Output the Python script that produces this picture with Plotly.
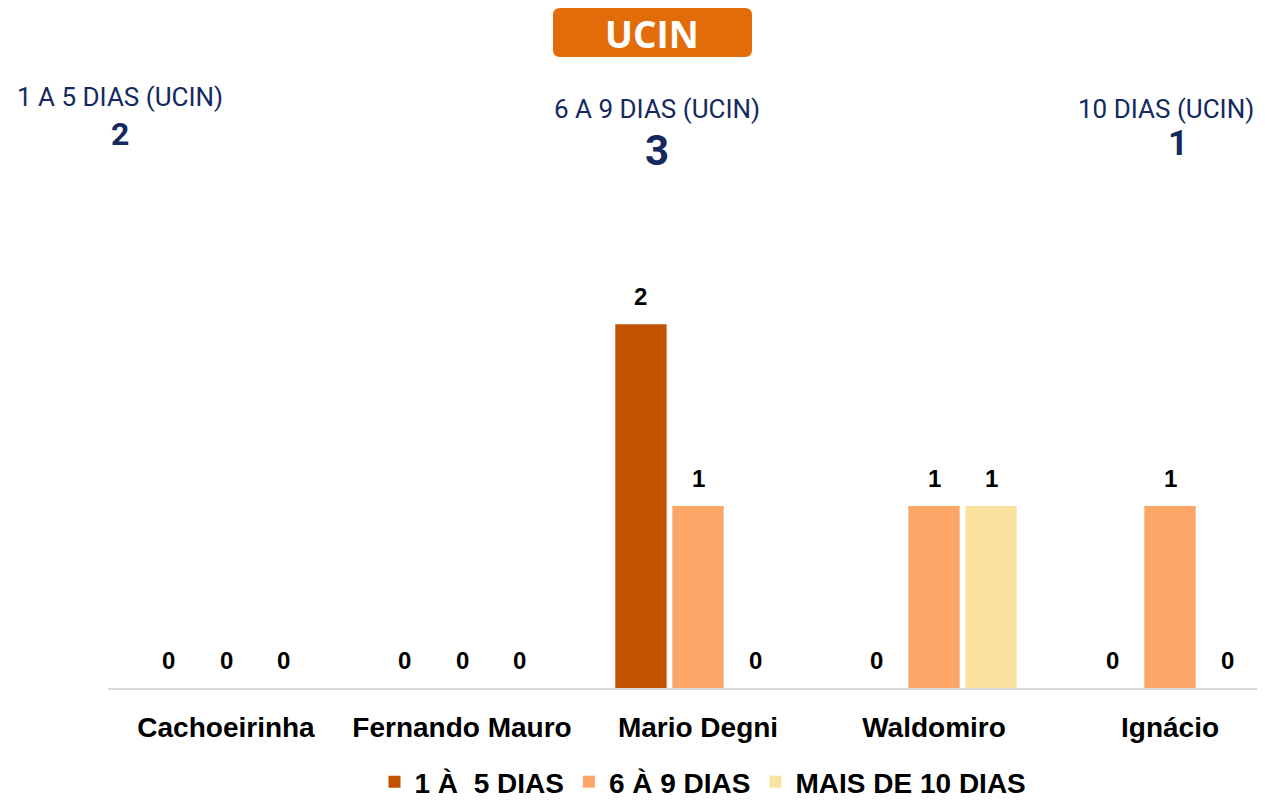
import plotly.graph_objects as go

categories = ["Cachoeirinha", "Fernando Mauro", "Mario Degni", "Waldomiro", "Ignácio"]
series_names = ["1 À  5 DIAS", "6 À 9 DIAS", "MAIS DE 10 DIAS"]
v_1a5 = [0, 0, 2, 0, 0]
v_6a9 = [0, 0, 1, 1, 1]
v_10 = [0, 0, 0, 1, 0]
series_values = [v_1a5, v_6a9, v_10]
colors = ["#C05200", "#FBA566", "#FAE29F"]

summary_labels = ["1 A 5 DIAS (UCIN)", "6 A 9 DIAS (UCIN)", "10 DIAS (UCIN)"]
summary_values = [2, 3, 1]

PAGE_W, PAGE_H = 1265, 807
OFF = 8  # default body margin of the html page
FW, FH = PAGE_W - 2 * OFF, PAGE_H - 2 * OFF
navy = "#14295E"
bold_font = "Liberation Sans, Arial"


def px(x):
    return (x - OFF) / FW


def py(y):
    return 1 - (y - OFF) / FH


fig = go.Figure()
idx = list(range(len(categories)))
for name, vals, col in zip(series_names, series_values, colors):
    fig.add_trace(go.Bar(x=idx, y=vals, name=f"<b>{name}</b>",
                         marker=dict(color=col, line=dict(width=0)), cliponaxis=False))

# value labels above bars (from data)
n_series = len(series_values)
bargap = 0.275
slot = (1 - bargap) / n_series
for s, vals in enumerate(series_values):
    for i, v in enumerate(vals):
        fig.add_annotation(x=i + (s - (n_series - 1) / 2) * slot, y=v, xref="x", yref="y",
                           text=f"<b>{v}</b>", showarrow=False, yanchor="bottom", yshift=12,
                           font=dict(family=bold_font, size=24, color="#000000"))

# title box with rounded corners
bx0, bx1, by0, by1 = px(553), px(752), py(57), py(8)
rx, ry = 7 / FW, 7 / FH
path = (f"M {bx0+rx},{by0} L {bx1-rx},{by0} Q {bx1},{by0} {bx1},{by0+ry} "
        f"L {bx1},{by1-ry} Q {bx1},{by1} {bx1-rx},{by1} L {bx0+rx},{by1} "
        f"Q {bx0},{by1} {bx0},{by1-ry} L {bx0},{by0+ry} Q {bx0},{by0} {bx0+rx},{by0} Z")
fig.add_shape(type="path", xref="paper", yref="paper", path=path,
              fillcolor="#E36C0A", line=dict(width=0), layer="below")
fig.add_annotation(xref="paper", yref="paper", x=px(652), y=py(34), text="<b>UCIN</b>",
                   showarrow=False, font=dict(family="Open Sans", size=37, color="white"),
                   xanchor="center", yanchor="middle")

# summary texts
lab_pos = [(120, 97, "center"), (657, 109, "center"), (1256, 109, "right")]
num_pos = [(120, 134, 32), (657, 151, 42), (1178, 144, 35)]
for lab, (x, y, anc) in zip(summary_labels, lab_pos):
    fig.add_annotation(xref="paper", yref="paper", x=px(x), y=py(y), text=lab,
                       showarrow=False, xanchor=anc, yanchor="middle",
                       font=dict(family="Roboto", size=26, color=navy))
for val, (x, y, sz) in zip(summary_values, num_pos):
    fig.add_annotation(xref="paper", yref="paper", x=px(x), y=py(y), text=f"<b>{val}</b>",
                       showarrow=False, xanchor="center", yanchor="middle",
                       font=dict(family="Roboto", size=sz, color=navy))

cat_w = 236
x_left = 108
x_max = -0.5 + (PAGE_W - OFF - x_left) / cat_w

fig.update_layout(
    width=FW, height=FH,
    margin=dict(l=0, r=0, t=0, b=0, autoexpand=False),
    paper_bgcolor="white", plot_bgcolor="white",
    barmode="group", bargap=bargap, bargroupgap=0.1,
    showlegend=True,
    legend=dict(orientation="h", x=px(703), xanchor="center", y=py(782), yanchor="middle",
                font=dict(family=bold_font, size=28, color="#000000"),
                itemwidth=30, traceorder="normal", tracegroupgap=0),
    xaxis=dict(domain=[px(x_left), 1], range=[-0.5, x_max], showgrid=False, zeroline=False,
               showline=True, linecolor="#D9D9D9", linewidth=2,
               tickfont=dict(family=bold_font, size=28, color="#000000"),
               ticks="", ticklabelstandoff=13,
               tickvals=idx, ticktext=[f"<b>{c}</b>" for c in categories]),
    yaxis=dict(domain=[py(688), py(215)], range=[0, 2.6], visible=False,
               showgrid=False, zeroline=False),
)

fig.write_html("out.html")
